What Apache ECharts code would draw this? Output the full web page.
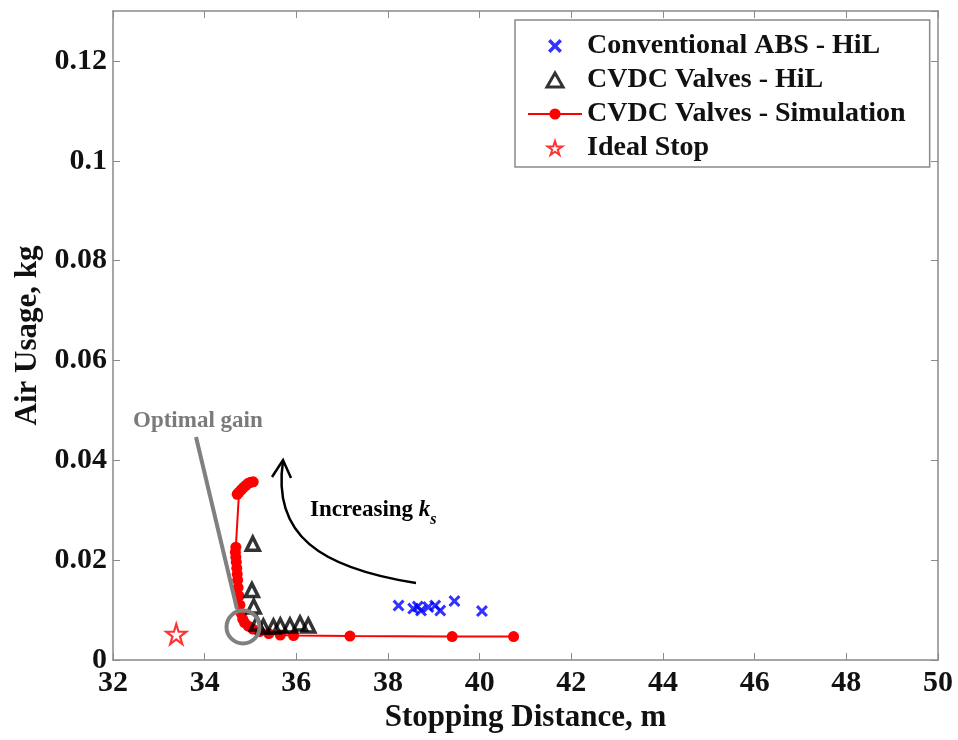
<!DOCTYPE html>
<html>
<head>
<meta charset="utf-8">
<script src="https://cdn.jsdelivr.net/npm/echarts@6/dist/echarts.min.js"></script>
<style>html,body{margin:0;padding:0;background:#fff;}#c{width:958px;height:740px;}</style>
</head>
<body>
<div id="c"></div>
<script>
// ---- data ----
const absX = [38.23, 38.55, 38.72, 38.88, 39.03, 39.14, 39.45, 40.05, 38.65];
const absY = [0.0109, 0.0103, 0.0099, 0.0106, 0.0109, 0.0099, 0.0118, 0.0098, 0.0107];

const hilX = [35.05, 35.03, 35.07, 35.14, 35.28, 35.5, 35.65, 35.86, 36.08, 36.26];
const hilY = [0.0233, 0.0140, 0.0107, 0.0073, 0.0067, 0.0067, 0.0069, 0.0069, 0.0073, 0.0069];

const simX = [35.06, 35.0, 34.95, 34.9, 34.85, 34.8, 34.75, 34.71, 34.68, 34.67, 34.68, 34.69, 34.70, 34.71, 34.72, 34.73, 34.75, 34.77, 34.80, 34.83, 34.87, 34.95, 35.05, 35.2, 35.4, 35.65, 35.94, 37.17, 39.4, 40.74];
const simY = [0.0357, 0.0356, 0.0354, 0.0350, 0.0346, 0.0341, 0.0336, 0.0332, 0.0226, 0.0216, 0.0206, 0.0196, 0.0184, 0.0172, 0.0160, 0.0145, 0.0128, 0.0110, 0.0093, 0.0082, 0.0075, 0.0068, 0.0062, 0.0057, 0.0053, 0.0050, 0.0049, 0.0048, 0.0047, 0.0047];

const idealX = [33.38];
const idealY = [0.0052];

const xTicks = [32, 34, 36, 38, 40, 42, 44, 46, 48, 50];
const yTicks = [0, 0.02, 0.04, 0.06, 0.08, 0.1, 0.12];
const seriesNames = ['Conventional ABS - HiL', 'CVDC Valves - HiL', 'CVDC Valves - Simulation', 'Ideal Stop'];

// ---- chart ----
const FONT = "'Liberation Serif','Times New Roman',serif";
const GRAY = '#8a8a8a';
const zip = (a, b) => a.map((v, i) => [v, b[i]]);
const XPATH = 'path://M0,1.8 L1.8,0 L5,3.2 L8.2,0 L10,1.8 L6.8,5 L10,8.2 L8.2,10 L5,6.8 L1.8,10 L0,8.2 L3.2,5 Z';
const TRI = 'path://M5,0 L10,8.7 L0,8.7 Z';
const STAR = 'path://M50,0 L61,35 L98,35 L68,57 L79,91 L50,70 L21,91 L32,57 L2,35 L39,35 Z';

const xMin = xTicks[0], xMax = xTicks[xTicks.length - 1], xInt = xTicks[1] - xTicks[0];
const yMin = yTicks[0], yInt = 0.02, yMax = 0.13;

function axisCommon(extra) {
  return Object.assign({
    type: 'value',
    axisLine: { show: true, onZero: false, lineStyle: { color: GRAY, width: 1.5 } },
    axisTick: { show: true, inside: true, length: 7, lineStyle: { color: GRAY, width: 1 } },
    splitLine: { show: false },
  }, extra);
}

const chart = echarts.init(document.getElementById('c'), null, { renderer: 'canvas' });
chart.setOption({
  animation: false,
  backgroundColor: '#fff',
  grid: { left: 113, right: 20, top: 11, bottom: 80, containLabel: false },
  xAxis: [
    axisCommon({
      min: xMin, max: xMax, interval: xInt, position: 'bottom',
      name: 'Stopping Distance, m', nameLocation: 'middle', nameGap: 38,
      nameTextStyle: { fontFamily: FONT, fontWeight: 'bold', fontSize: 31, color: '#111' },
      axisLabel: { fontFamily: FONT, fontWeight: 'bold', fontSize: 30, color: '#111', margin: 8 }
    }),
    axisCommon({
      min: xMin, max: xMax, interval: xInt, position: 'top',
      axisLabel: { show: false }
    })
  ],
  yAxis: [
    axisCommon({
      min: yMin, max: yMax, interval: yInt, position: 'left',
      name: 'Air Usage, kg', nameLocation: 'middle', nameGap: 70,
      nameTextStyle: { fontFamily: FONT, fontWeight: 'bold', fontSize: 31, color: '#111' },
      axisLabel: {
        fontFamily: FONT, fontWeight: 'bold', fontSize: 30, color: '#111', margin: 6,
        showMaxLabel: false,
        formatter: v => (Math.abs(v / yInt - Math.round(v / yInt)) < 1e-6 && v <= 0.121) ? String(+v.toFixed(2)) : ''
      }
    }),
    axisCommon({
      min: yMin, max: yMax, interval: yInt, position: 'right',
      axisLabel: { show: false }
    })
  ],
  legend: {
    orient: 'vertical', left: 515, top: 20,
    padding: [12, 24, 5, 12],
    itemGap: 6, itemWidth: 54, itemHeight: 14,
    backgroundColor: '#fff', borderColor: GRAY, borderWidth: 1.5, borderRadius: 0,
    textStyle: { fontFamily: FONT, fontWeight: 'bold', fontSize: 28, color: '#111' },
    data: [
      { name: seriesNames[0], icon: XPATH, itemStyle: { color: '#0000ff' } },
      { name: seriesNames[1], icon: TRI, itemStyle: { color: 'rgba(255,255,255,0)', borderColor: '#000', borderWidth: 3 } },
      { name: seriesNames[2] },
      { name: seriesNames[3], icon: STAR, itemStyle: { color: '#fff', borderColor: '#ff0000', borderWidth: 2 } }
    ]
  },
  series: [
    {
      name: seriesNames[2], type: 'line', z: 2,
      data: zip(simX, simY),
      symbol: 'circle', symbolSize: 11, showSymbol: true,
      lineStyle: { color: '#ff0000', width: 2 },
      itemStyle: { color: '#ff0000' }
    },
    {
      name: seriesNames[0], type: 'scatter', z: 3,
      data: zip(absX, absY),
      symbol: XPATH, symbolSize: 12,
      itemStyle: { color: '#0000ff' }
    },
    {
      name: seriesNames[1], type: 'scatter', z: 4,
      data: zip(hilX, hilY),
      symbol: TRI, symbolSize: 13,
      itemStyle: { color: 'rgba(255,255,255,0)', borderColor: '#000', borderWidth: 3.5 }
    },
    {
      name: seriesNames[3], type: 'scatter', z: 4,
      data: zip(idealX, idealY),
      symbol: STAR, symbolSize: 20,
      itemStyle: { color: '#fff', borderColor: '#ff0000', borderWidth: 2.2 }
    }
  ],
  graphic: [
    { type: 'text', left: 133, top: 410, z: 10,
      style: { text: 'Optimal gain', fontFamily: FONT, fontWeight: 'bold', fontSize: 23, fill: '#7a7a7a' } },
    { type: 'line', z: 10, shape: { x1: 196, y1: 437, x2: 237, y2: 609 },
      style: { stroke: '#808080', lineWidth: 4 } },
    { type: 'circle', z: 10, shape: { cx: 243, cy: 627, r: 16.5 },
      style: { fill: 'none', stroke: '#808080', lineWidth: 4 } },
    { type: 'bezierCurve', z: 10,
      shape: { x1: 416, y1: 583, cpx1: 320, cpy1: 568, cpx2: 272, cpy2: 535, x2: 283, y2: 461 },
      style: { fill: 'none', stroke: '#000', lineWidth: 2.5 } },
    { type: 'polyline', z: 10, shape: { points: [[272, 477], [283, 460], [291, 478]] },
      style: { fill: 'none', stroke: '#000', lineWidth: 2.5 } },
    { type: 'text', left: 310, top: 499, z: 10,
      style: {
        text: '{a|Increasing }{k|k}{s|s}',
        rich: {
          a: { fontFamily: FONT, fontWeight: 'bold', fontSize: 23, fill: '#000', verticalAlign: 'bottom' },
          k: { fontFamily: FONT, fontWeight: 'bold', fontStyle: 'italic', fontSize: 23, fill: '#000', verticalAlign: 'bottom' },
          s: { fontFamily: FONT, fontWeight: 'bold', fontStyle: 'italic', fontSize: 16, fill: '#000', padding: [0, 0, -6, 0], verticalAlign: 'bottom' }
        }
      } }
  ]
});
</script>
</body>
</html>
